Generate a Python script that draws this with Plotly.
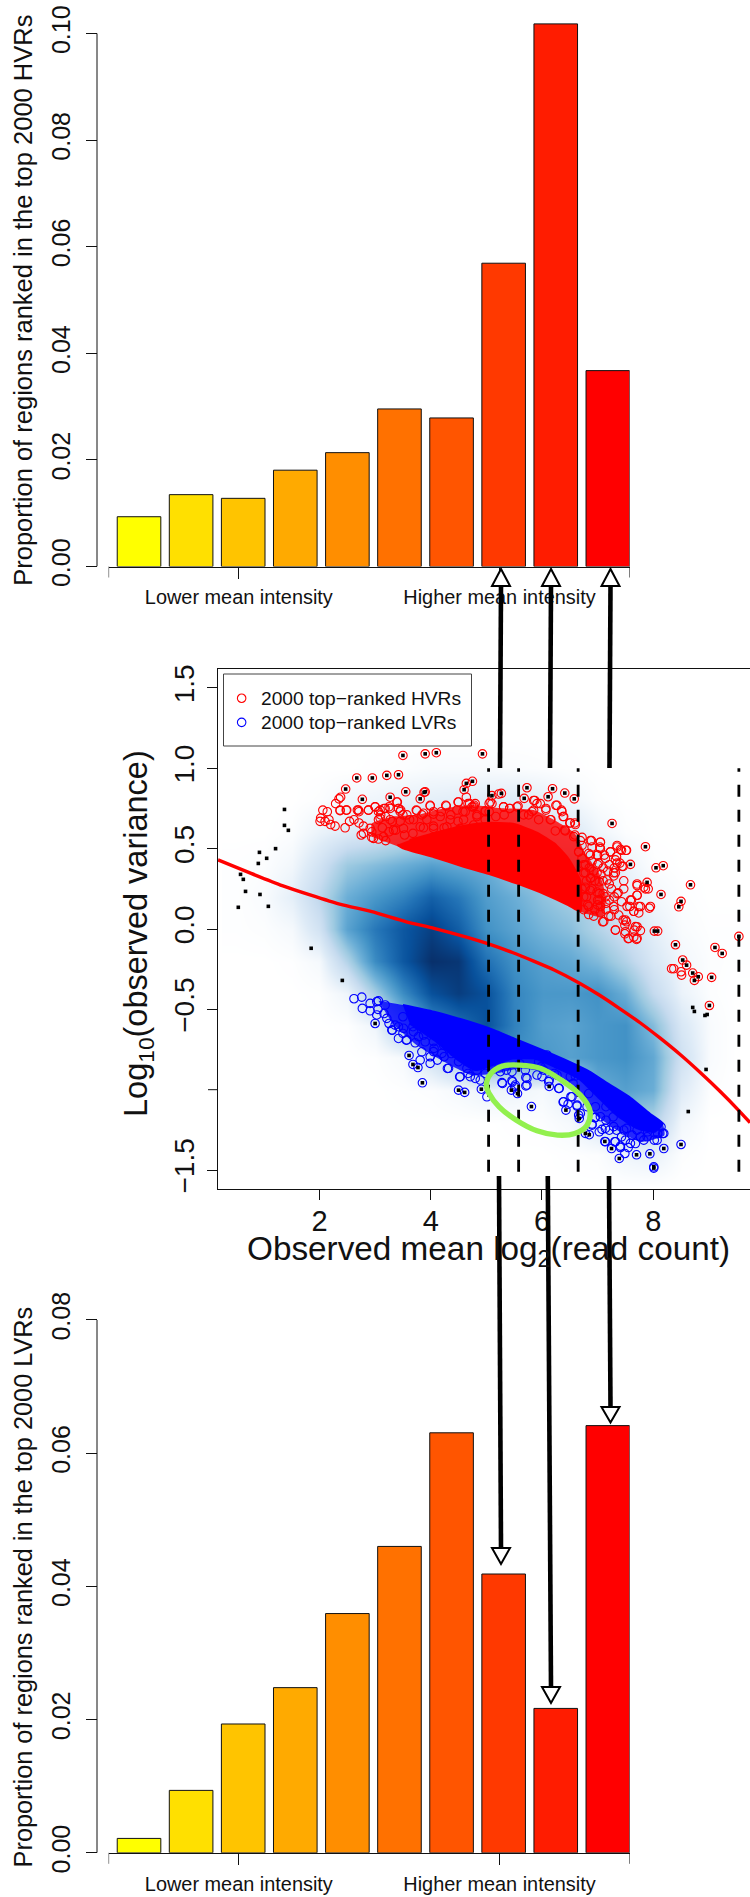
import plotly.graph_objects as go

W, H = 750, 1897
def PX(v): return v / W
def PY(v): return 1 - v / H

FONT = "Liberation Sans"
INK = "#111111"

# ---------- bar panels ----------
bin_ids = [1, 2, 3, 4, 5, 6, 7, 8, 9, 10]
bin_colors = ["#ffff00", "#ffe000", "#ffc400", "#ffaa00", "#ff8e00",
              "#ff7100", "#ff5500", "#ff3900", "#ff1c00", "#ff0000"]
hvr_props = [0.00934, 0.01348, 0.01279, 0.01807, 0.02136,
             0.02956, 0.02787, 0.0569, 0.1018, 0.03675]
lvr_props = [0.00216, 0.00937, 0.01934, 0.0248, 0.03592,
             0.046, 0.06306, 0.04186, 0.02168, 0.06414]
bar_ticks = [2.916, 7.92]
bar_end_ticks = [0.416, 10.418]
bar_tick_text = ["Lower mean intensity", "Higher mean intensity"]

# ---------- density image (smoothed scatter levels) ----------
dens_x = [0.5, 1, 1.5, 2, 2.5, 3, 3.5, 4, 4.5, 5, 5.5, 6, 6.5, 7, 7.5, 8, 8.5, 9, 9.5]
dens_y = [1.2, 1.0, 0.8, 0.6, 0.4, 0.2, 0.0, -0.2, -0.4, -0.6, -0.8, -1.0, -1.2, -1.4, -1.6]
dens_z = [
 [0]*19,
 [0, 0, 0, 0, 0, .05, .1, .2, .2, .2, .15, .1, .05, 0, 0, 0, 0, 0, 0],
 [0, 0, 0, .1, .4, .5, .7, .8, .9, 1, 1, .8, .4, .1, 0, 0, 0, 0, 0],
 [0, 0, .1, .6, 1, 1.3, 1.8, 2, 2.2, 2, 1.8, 1.6, 1.2, .5, .1, 0, 0, 0, 0],
 [.05, .1, .4, 1.5, 3, 3.5, 4, 4.5, 4.2, 4, 3, 3, 3, 1.5, .6, .1, 0, 0, 0],
 [.05, .2, .8, 2.2, 4, 4.8, 5.5, 6.5, 5.8, 4.6, 4, 3.3, 2.8, 2.3, 1, .4, .1, 0, 0],
 [.05, .1, .3, 1.5, 4.4, 5.8, 6.8, 7.5, 6.6, 5, 4.4, 3.8, 3.4, 2.5, 1.6, .8, .2, .05, .05],
 [0, 0, .05, .3, 2.5, 5.2, 6.8, 8, 7.8, 6, 5, 4.5, 4.2, 3.6, 2.5, 1.2, .4, .1, .05],
 [0, 0, 0, .05, .5, 2.8, 5.2, 7, 7.6, 7, 5.4, 4.8, 4.8, 5, 4, 2, .6, .1, 0],
 [0, 0, 0, 0, .05, .5, 3, 5, 6, 7, 5.5, 4.6, 4.4, 4.8, 5, 3.5, 1.2, .2, 0],
 [0, 0, 0, 0, 0, .05, .3, 1.5, 3, 5, 5, 4.8, 4.5, 4.8, 5, 4.2, 1.6, .2, 0],
 [0, 0, 0, 0, 0, 0, .05, .1, .3, .6, .5, .3, .9, 4, 4.5, 4, 1, .1, 0],
 [0, 0, 0, 0, 0, 0, 0, 0, 0, 0, .05, .1, .3, 1.2, 2.8, 2.5, .4, 0, 0],
 [0, 0, 0, 0, 0, 0, 0, 0, 0, 0, 0, 0, .05, .1, .5, .7, .1, 0, 0],
 [0]*19,
]
blues9 = ["#ffffff", "#deebf7", "#c6dbef", "#9ecae1", "#6baed6",
          "#4292c6", "#2171b5", "#08519c", "#08306b"]

# ---------- outlines of the overlapped parts of the two point clouds ----------
red_fringe_x = [2.94, 2.94, 3.31, 3.75, 4.24, 4.74, 5.29, 5.85, 6.22, 6.59, 6.78, 7.03, 7.15, 7.09,
                6.69, 6.47, 6.04, 5.54, 5.05, 4.55, 4.06, 3.50]
red_fringe_y = [.574, .657, .699, .709, .751, .772, .751, .74, .678, .595, .47, .346, .20, .076,
                .108, .149, .218, .284, .342, .392, .446, .502]
red_core_x = [3.40, 3.50, 4.06, 4.55, 5.05, 5.54, 6.04, 6.47, 6.69,
              6.69, 6.47, 6.22, 5.91, 5.48, 4.98, 4.49, 3.99, 3.62]
red_core_y = [.525, .502, .446, .392, .342, .284, .218, .149, .108,
              .30, .44, .533, .60, .655, .66, .635, .59, .554]
blue_fringe_x = [3.06, 3.50, 4.06, 4.55, 5.05, 5.54, 5.98, 6.47, 6.84, 7.21, 7.59, 7.96, 8.17,
                 8.20, 7.77, 7.34, 6.97, 6.59, 6.22, 5.60, 5.17, 4.74, 4.24, 3.75, 3.31]
blue_fringe_y = [-.446, -.473, -.515, -.562, -.618, -.687, -.749, -.822, -.884, -.967, -1.05, -1.154, -1.21,
                 -1.283, -1.325, -1.25, -1.158, -.982, -.90, -.868, -.90, -.91, -.826, -.723, -.588]
blue_core_x = [3.50, 4.06, 4.55, 5.05, 5.54, 5.98, 6.47, 6.84, 7.21, 7.59, 7.96, 8.17,
               8.02, 7.71, 7.34, 7.03, 6.66, 6.22, 5.85, 5.48, 5.11, 4.80, 4.49, 4.06, 3.62]
blue_core_y = [-.473, -.515, -.562, -.618, -.687, -.749, -.822, -.884, -.967, -1.05, -1.154, -1.21,
               -1.262, -1.241, -1.158, -1.054, -.93, -.857, -.805, -.805, -.847, -.878, -.815, -.691, -.587]

# ---------- open circles ----------
hvr_x = [2.06, 2.14, 2.02, 2.01, 2.10, 2.20, 2.28, 2.17, 2.46, 2.54, 2.62, 2.68, 2.71, 2.88, 2.29, 2.35, 2.38, 2.37, 2.48,
         3.00, 3.06, 3.16, 3.25, 3.40, 3.42, 3.45, 2.75, 2.79, 2.71, 2.94, 3.06, 3.10, 3.19, 3.31, 3.50, 3.62, 3.74, 3.84,
         3.99, 4.05, 4.27, 4.19, 4.49, 4.36, 4.64, 4.67, 4.80, 4.77, 4.58, 4.83, 5.05, 5.05, 5.31, 5.42, 5.57, 5.85, 5.91,
         6.07, 5.85, 6.25, 6.35, 6.38, 6.50, 6.59, 5.94, 6.16, 5.76, 5.32, 5.17, 4.98, 3.13, 3.25, 3.37, 2.94, 3.06, 3.19,
         3.53, 3.68, 3.87, 4.05, 4.24, 4.49, 6.41, 6.59, 6.69, 6.66, 6.87, 7.05, 7.04, 7.23, 7.35, 7.43, 7.51, 6.84, 7.00,
         7.12, 7.34, 7.21, 7.30, 7.40, 7.46, 6.78, 6.93, 7.06, 7.29, 7.29, 6.87, 7.03, 7.21, 7.71, 7.86, 7.91, 7.37, 7.30,
         7.71, 7.61, 7.43, 7.21, 6.87, 7.03, 6.78, 6.75, 6.84, 7.00, 7.15, 7.58, 7.74, 7.93, 7.74, 7.65, 6.84, 6.93, 7.09,
         7.24, 7.52, 7.46, 7.32, 7.49, 7.71, 7.66, 7.49, 7.55, 7.70, 7.65, 7.03, 8.33, 8.37, 8.50, 8.51,
         4.98, 5.07, 5.31, 5.42, 5.55, 5.67, 5.82, 5.87, 5.97, 6.07, 6.27, 6.36, 6.39, 6.15, 6.51, 6.60, 6.24, 6.42, 6.57,
         6.72, 6.89, 7.05, 6.90, 7.05, 7.23, 7.35, 7.41, 7.52, 6.72, 6.66, 6.87, 6.99, 7.14, 7.32, 6.75, 7.02, 6.78, 6.99,
         7.17, 7.32, 7.47, 7.44, 7.35, 7.71, 7.83, 7.47, 7.35, 6.99, 7.14, 7.71, 7.59, 7.77, 7.95, 7.53, 7.05, 7.29, 7.65,
         7.38, 7.50, 7.11, 7.32, 7.68, 7.77, 7.71, 7.56, 7.50,
         3.09, 3.18, 3.27, 3.42, 3.46, 3.75, 3.87, 4.05, 4.28, 4.50, 4.70, 4.78, 4.47, 4.62, 4.74, 4.98, 5.10, 5.22, 3.99,
         3.39, 3.00, 2.88, 2.70, 2.49, 2.37, 3.09, 3.27, 3.45, 3.57, 3.69, 3.93, 4.17, 4.35, 4.59, 4.83, 2.91, 2.79, 2.97,
         3.15, 3.33, 3.51, 3.81, 4.05, 4.29, 4.53, 4.77,
         6.75, 6.80, 6.72, 6.80, 6.75, 6.85, 6.72, 6.90, 6.82, 6.90, 6.95, 6.95, 7.00, 7.05, 7.10, 7.10, 7.10, 6.88, 7.15,
         7.20, 7.00, 7.18, 7.25, 7.30]
hvr_y = [.74, .73, .69, .67, .67, .65, .64, .68, .63, .67, .68, .74, .73, .74, .78, .81, .82, .74, .74,
         .76, .73, .75, .76, .79, .75, .73, .585, .64, .66, .605, .68, .71, .70, .67, .71, .68, .74, .71,
         .765, .715, .77, .73, .79, .71, .82, .78, .78, .76, .73, .71, .78, .73, .76, .75, .765, .80, .78,
         .75, .74, .77, .74, .70, .66, .66, .68, .68, .71, .71, .70, .68, .63, .605, .615, .57, .56, .55,
         .585, .595, .63, .64, .63, .67, .616, .585, .55, .48, .55, .54, .51, .48, .51, .49, .49, .47, .46,
         .46, .45, .40, .38, .41, .39, .40, .36, .34, .35, .33, .315, .294, .28, .28, .25, .25, .225, .20,
         .21, .18, .17, .18, .24, .22, .26, .20, .14, .15, .12, .14, .14, .13, .10, .11, .09, .08, .045,
         .08, .045, .055, -.007, .024, .014, -.007, -.03, -.06, -.065, -.05, .18, -.247, -.247, -.266, -.287,
         .73, .79, .76, .75, .76, .71, .73, .80, .78, .74, .77, .73, .70, .68, .66, .65, .61, .61, .575,
         .57, .55, .54, .51, .50, .48, .52, .496, .49, .52, .48, .46, .46, .44, .43, .40, .41, .35, .35,
         .305, .35, .30, .39, .41, .27, .26, .25, .22, .23, .20, .21, .18, .14, .14, .14, .14, .14, .11,
         .087, .056, .046, -.006, .015, -.01, -.058, -.058, -.017,
         .74, .75, .75, .75, .74, .736, .72, .73, .765, .79, .78, .77, .74, .73, .76, .736, .78, .84, .77,
         .79, .76, .74, .74, .74, .736, .69, .68, .67, .71, .68, .68, .70, .68, .68, .70, .626, .595, .564,
         .574, .616, .626, .636, .626, .636, .626, .647,
         .12, .20, .25, .30, .35, .38, .44, .42, .15, .25, .12, .30, .18, .10, .22, .30, .38, .32, .16,
         .08, .40, .36, .25, .12]
hvr_flag_x = [3.50, 3.90, 4.10, 4.93, 2.67, 2.95, 3.21, 3.42, 2.47, 3.55, 3.90, 3.88, 2.77, 3.27, 3.81, 4.60, 4.64, 4.75,
              5.10, 5.27, 5.73, 5.68, 6.19, 6.11, 6.41, 6.58, 7.26, 7.86, 7.59, 8.05, 8.18, 7.89, 8.67, 8.14, 8.50, 8.46,
              8.02, 8.08, 8.40, 9.11, 9.24, 9.54, 8.53, 8.60, 8.71, 8.81, 9.05, 8.74, 9.01]
hvr_flag_y = [1.08, 1.09, 1.097, 1.09, .94, .94, .956, .96, .871, .854, .854, .85, .807, .82, .81, .867, .906, .919,
              .83, .844, .879, .813, .873, .823, .846, .81, .657, .512, .402, .381, .394, .29, .275, .215, .172, .138,
              -.013, -.013, -.098, -.115, -.152, -.046, -.193, -.225, -.274, -.297, -.301, -.32, -.476]

lvr_x = [2.62, 2.76, 2.77, 2.91, 2.91, 3.06, 3.05, 3.16, 3.25, 3.31, 3.42, 3.42, 3.56, 3.72, 3.50, 3.68, 3.90, 3.84, 3.99,
         4.12, 4.30, 4.24, 3.81, 4.06, 4.52, 4.67, 4.80, 4.89, 5.01, 5.29, 5.47, 5.51, 5.71, 5.71, 5.91, 6.13, 6.31, 6.38,
         6.52, 6.47, 6.63, 6.66, 6.90, 6.95, 7.03, 7.21, 7.31, 7.41, 7.49, 7.55, 7.68, 7.83, 8.02, 8.17, 8.14, 7.77, 7.43,
         7.34, 7.15, 6.81, 6.84, 6.56, 6.22, 6.60, 5.98, 5.60, 5.36, 5.23, 4.98, 4.37, 3.87, 3.50, 7.15, 7.28, 7.52, 7.62,
         7.90, 8.08, 7.96, 7.71,
         3.03, 3.21, 3.30, 3.57, 3.78, 4.05, 4.20, 4.32, 3.99, 4.53, 4.71, 3.03, 3.18, 3.36, 3.51, 3.69, 3.87, 4.05, 4.23,
         4.41, 4.50, 4.65, 4.83, 5.28, 5.46, 5.52, 5.73,
         5.73, 6.12, 6.30, 6.00, 6.39, 6.54, 6.63, 6.69, 6.96, 6.90, 7.08, 7.14, 7.14, 7.32, 7.41, 7.50, 7.59, 8.07, 8.19,
         7.89, 7.47, 7.29, 6.96, 7.05, 6.09, 5.94, 6.39, 6.69, 5.70, 5.46, 5.25, 6.03, 6.27, 6.51]
lvr_y = [-.434, -.424, -.494, -.463, -.509, -.447, -.50, -.526, -.588, -.629, -.681, -.608, -.692, -.708, -.546, -.608,
         -.702, -.764, -.795, -.816, -.868, -.795, -.816, -.743, -.92, -.899, -.93, -.94, -1.044, -.961, -.951, -.982,
         -.924, -.976, -.909, -.94, -.992, -1.077, -1.044, -1.09, -1.102, -1.158, -1.221, -1.175, -1.262, -1.252, -1.324,
         -1.36, -1.397, -1.36, -1.335, -1.314, -1.314, -1.273, -1.231, -1.293, -1.293, -1.252, -1.19, -1.106, -1.024,
         -.961, -.899, -.915, -.858, -.837, -.878, -.847, -.899, -.775, -.608, -.65, -1.106, -1.169, -1.241, -1.283,
         -1.262, -1.273, -1.231, -1.252,
         -.535, -.556, -.629, -.69, -.67, -.763, -.774, -.867, -.836, -.919, -.919, -.452, -.473, -.598, -.618, -.639, -.66,
         -.701, -.722, -.763, -.826, -.867, -.878, -.956, -.944, -.971, -.93,
         -.971, -.95, -.992, -.919, -1.075, -1.044, -1.096, -1.148, -1.172, -1.214, -1.247, -1.241, -1.324, -1.324, -1.351,
         -1.314, -1.334, -1.314, -1.272, -1.293, -1.251, -1.23, -1.106, -1.168, -.784, -.826, -.847, -.888, -.878, -.888,
         -.888, -.878, -.909, -.919]
lvr_flag_x = [3.00, 3.61, 3.68, 3.77, 3.85, 4.50, 4.61, 4.91, 5.45, 5.56, 5.81, 6.13, 6.43, 6.67, 6.78, 6.85, 7.13, 7.25,
              7.39, 7.70, 7.94, 8.19, 8.50, 8.01, 8.01]
lvr_flag_y = [-.588, -.787, -.843, -.862, -.957, -1.003, -1.017, -.997, -1.003, -1.024, -1.105, -.98, -1.127, -1.179,
              -1.272, -1.28, -1.322, -1.366, -1.428, -1.405, -1.399, -1.366, -1.341, -1.48, -1.488]

other_x = [1.37, 1.37, 1.44, 1.21, .92, 1.05, .90, .58, .63, .67, .93, 1.08, .54, 1.85, 2.41, 8.71, 8.74, 8.93, 8.97, 8.95, 8.63]
other_y = [.744, .645, .614, .50, .477, .44, .408, .34, .309, .234, .215, .141, .135, -.12, -.32, -.488, -.513, -.538, -.532, -.874, -1.136]

# ---------- trend line, bin limits, highlighted ellipse ----------
trend_x = [.175, .77, 1.33, 1.83, 2.38, 2.94, 3.56, 4.06, 4.61, 5.05, 5.48, 5.85, 6.22, 6.66, 7.03, 7.37, 7.77, 8.12, 8.5, 8.86, 9.2, 9.54, 9.74]
trend_y = [.43, .346, .27, .212, .153, .108, .045, .004, -.048, -.094, -.148, -.2, -.255, -.334, -.411, -.489, -.585, -.678, -.786, -.898, -1.01, -1.13, -1.205]
bin_limits = [5.04, 5.58, 6.65, 9.54]
limit_span = [-1.51, 1.0]
ring_x = [5.0, 5.08, 5.29, 5.60, 5.98, 6.35, 6.69, 6.86, 6.81, 6.59, 6.28, 5.91, 5.54, 5.23, 5.05, 5.0]
ring_y = [-.972, -.899, -.853, -.847, -.868, -.941, -1.034, -1.127, -1.221, -1.273, -1.283, -1.256, -1.19, -1.107, -1.024, -.972]

legend_labels = ["2000 top\u2212ranked HVRs", "2000 top\u2212ranked LVRs"]
legend_key_x = [0.60, 0.60]
legend_key_y = [1.436, 1.286]

mid_xticks = [2, 4, 6, 8]
mid_yticks = [-1.5, -0.5, 0, 0.5, 1, 1.5]
mid_yticktext = ["\u22121.5", "\u22120.5", "0.0", "0.5", "1.0", "1.5"]
mid_unlabelled_ytick = -1

fig = go.Figure()

def bars(vals, xa, ya):
    fig.add_trace(go.Bar(x=bin_ids, y=vals, width=0.837, marker=dict(color=bin_colors, line=dict(color=INK, width=1)),
                         xaxis=xa, yaxis=ya, showlegend=False, hoverinfo="skip"))
bars(hvr_props, "x", "y")
bars(lvr_props, "x3", "y3")

fig.add_trace(go.Heatmap(x=dens_x, y=dens_y[::-1], z=dens_z[::-1], zmin=0, zmax=8, zsmooth="best", showscale=False,
                         colorscale=[[i / 8, c] for i, c in enumerate(blues9)], xaxis="x2", yaxis="y2", hoverinfo="skip"))

for cx, cy, col, lw in [(red_fringe_x, red_fringe_y, "rgba(255,0,0,0.82)", 0), (blue_fringe_x, blue_fringe_y, "rgba(0,0,255,0.82)", 0),
                        (red_core_x, red_core_y, "#ff0000", 2), (blue_core_x, blue_core_y, "#0000ff", 2)]:
    fig.add_trace(go.Scatter(x=cx, y=cy, mode="lines", fill="toself", fillcolor=col, line=dict(color=col, width=lw, shape="spline", smoothing=0.5),
                             xaxis="x2", yaxis="y2", showlegend=False, hoverinfo="skip"))

def circles(xs, ys, col):
    fig.add_trace(go.Scatter(x=xs, y=ys, mode="markers", showlegend=False,
                             marker=dict(symbol="circle-open", size=8.5, color=col, line=dict(width=1.1, color=col)),
                             xaxis="x2", yaxis="y2", hoverinfo="skip"))
circles(hvr_x + hvr_flag_x, hvr_y + hvr_flag_y, "#ff0000")
circles(lvr_x + lvr_flag_x, lvr_y + lvr_flag_y, "#0000ff")

fig.add_trace(go.Scatter(x=trend_x, y=trend_y, mode="lines", line=dict(color="#ff0000", width=3.4, shape="spline", smoothing=0.5),
                         xaxis="x2", yaxis="y2", showlegend=False, hoverinfo="skip"))
fig.add_trace(go.Scatter(x=hvr_flag_x + lvr_flag_x + other_x, y=hvr_flag_y + lvr_flag_y + other_y, mode="markers",
                         marker=dict(symbol="square", size=3.6, color="#000000"), xaxis="x2", yaxis="y2",
                         showlegend=False, hoverinfo="skip"))
for v in bin_limits:
    fig.add_trace(go.Scatter(x=[v, v], y=limit_span, mode="lines", line=dict(color="#000000", width=2.8, dash="12px,13px"),
                             xaxis="x2", yaxis="y2", showlegend=False, hoverinfo="skip"))
fig.add_trace(go.Scatter(x=ring_x, y=ring_y, mode="lines", line=dict(color="#92F04E", width=5.4, shape="spline", smoothing=1),
                         xaxis="x2", yaxis="y2", showlegend=False, hoverinfo="skip"))
# legend keys
for kx, ky, col in zip(legend_key_x, legend_key_y, ["#ff0000", "#0000ff"]):
    circles([kx], [ky], col)

shapes = []
def seg(x0, y0, x1, y1, w=4.6, color="#000000"):
    shapes.append(dict(type="line", xref="paper", yref="paper", x0=PX(x0), y0=PY(y0), x1=PX(x1), y1=PY(y1),
                       line=dict(color=color, width=w), layer="above"))
def head(xt, yt, yb, half=9):
    p = f"M{PX(xt)},{PY(yt)} L{PX(xt-half)},{PY(yb)} L{PX(xt+half)},{PY(yb)} Z"
    shapes.append(dict(type="path", xref="paper", yref="paper", path=p, fillcolor="#ffffff",
                       line=dict(color="#000000", width=2), layer="above"))

# arrows linking the panels
for x0, x1 in [(500, 501), (550, 551), (609.5, 610.5)]:
    seg(x0, 768, x1, 586)
    head(x1, 569, 586)
for x0, x1, tip, base in [(499, 501, 1564, 1548), (547.8, 551, 1703, 1687), (609, 610.5, 1422.4, 1407)]:
    seg(x0, 1176, x1, base)
    head(x1, tip, base)

# y axis spines of the bar panels, spanning only the labelled range
for axis, top_val in [("y", 0.10), ("y3", 0.08)]:
    shapes.append(dict(type="line", xref="paper", yref=axis, x0=PX(97), x1=PX(97), y0=0, y1=top_val,
                       line=dict(color=INK, width=1), layer="above"))
# unlabelled end ticks
for xa, base in [("x", 566.5), ("x3", 1852.8)]:
    for t in bar_end_ticks:
        shapes.append(dict(type="line", xref=xa, yref="paper", x0=t, x1=t, y0=PY(base), y1=PY(base + 11),
                           line=dict(color=INK, width=1), layer="above"))
shapes.append(dict(type="line", xref="paper", yref="y2", x0=PX(208), x1=PX(218), y0=mid_unlabelled_ytick, y1=mid_unlabelled_ytick,
                   line=dict(color=INK, width=1), layer="above"))
# legend box
shapes.append(dict(type="rect", xref="paper", yref="paper", x0=PX(223.5), x1=PX(471.5), y0=PY(674), y1=PY(746),
                   line=dict(color="#444444", width=1), layer="above"))

def bar_axes(px_top, px_bot, ymax, ytick):
    return dict(domain=[PY(px_bot), PY(px_top)], range=[0, ymax], anchor="free", position=PX(97), tickvals=ytick,
                ticktext=[f"{v:.2f}" for v in ytick], tickangle=-90, ticks="outside", ticklen=11, tickwidth=1, tickcolor=INK,
                showgrid=False, zeroline=False, showline=False, tickfont=dict(size=25, color=INK, family=FONT), ticklabelstandoff=6)

x_common = dict(domain=[PX(108.6), PX(629.6)], range=[0.416, 10.418], tickvals=bar_ticks, ticktext=bar_tick_text,
                ticks="outside", ticklen=11, tickwidth=1, tickcolor=INK, showline=True, linecolor=INK, linewidth=1,
                showgrid=False, zeroline=False, tickangle=0, tickfont=dict(size=19.9, color=INK, family=FONT), ticklabelstandoff=2)

annotations = [
    dict(text="Proportion of regions ranked in the top 2000 HVRs", xref="paper", yref="paper", x=PX(23), y=PY(300.8),
         xanchor="center", yanchor="middle", textangle=-90, showarrow=False, font=dict(size=25.5, color=INK, family=FONT)),
    dict(text="Proportion of regions ranked in the top 2000 LVRs", xref="paper", yref="paper", x=PX(23), y=PY(1587.4),
         xanchor="center", yanchor="middle", textangle=-90, showarrow=False, font=dict(size=25.3, color=INK, family=FONT)),
    dict(text="Log<sub>10</sub>(observed variance)", xref="paper", yref="paper", x=PX(139), y=PY(934),
         xanchor="center", yanchor="middle", textangle=-90, showarrow=False, font=dict(size=32.5, color=INK, family=FONT)),
    dict(text="Observed mean log<sub>2</sub>(read count)", xref="paper", yref="paper", x=PX(488.5), y=PY(1251),
         xanchor="center", yanchor="middle", showarrow=False, font=dict(size=33.3, color=INK, family=FONT)),
]
for lab, py in zip(legend_labels, [698.3, 722.3]):
    annotations.append(dict(text=lab, xref="paper", yref="paper", x=PX(258.6), y=PY(py), xanchor="left", yanchor="middle",
                            showarrow=False, font=dict(size=19.2, color=INK, family=FONT)))

layout = dict(
    width=W, height=H, autosize=False, margin=dict(l=0, r=0, t=0, b=0, autoexpand=False), paper_bgcolor="white", plot_bgcolor="white",
    font=dict(family=FONT, color=INK), barmode="overlay", shapes=shapes, showlegend=False,
    xaxis=dict(x_common, anchor="y"),
    yaxis=bar_axes(20, 566.5, 0.10253, [0, .02, .04, .06, .08, .10]),
    xaxis3=dict(x_common, anchor="y3"),
    yaxis3=bar_axes(1300, 1852.8, 0.08300, [0, .02, .04, .06, .08]),
    xaxis2=dict(domain=[PX(218), 1], range=[0.175, 9.74], anchor="y2", tickvals=mid_xticks, ticks="outside", ticklen=10, tickwidth=1,
                tickcolor=INK, showline=True, mirror=True, linecolor=INK, linewidth=1.4, showgrid=False, zeroline=False,
                tickfont=dict(size=29, color=INK, family=FONT), ticklabelstandoff=-4),
    yaxis2=dict(domain=[PY(1189), PY(669)], range=[-1.618, 1.618], anchor="x2", tickvals=mid_yticks, ticktext=mid_yticktext, tickangle=-90,
                ticks="outside", ticklen=10, tickwidth=1, tickcolor=INK, showline=True, mirror=True, linecolor=INK, linewidth=1.4,
                showgrid=False, zeroline=False, tickfont=dict(size=28, color=INK, family=FONT), ticklabelstandoff=2),
    annotations=annotations,
)
fig.update_layout(**layout)
fig.write_html("out.html", config=dict(displayModeBar=False),
               post_script="document.body.style.margin='0';document.body.style.overflow='hidden';")
